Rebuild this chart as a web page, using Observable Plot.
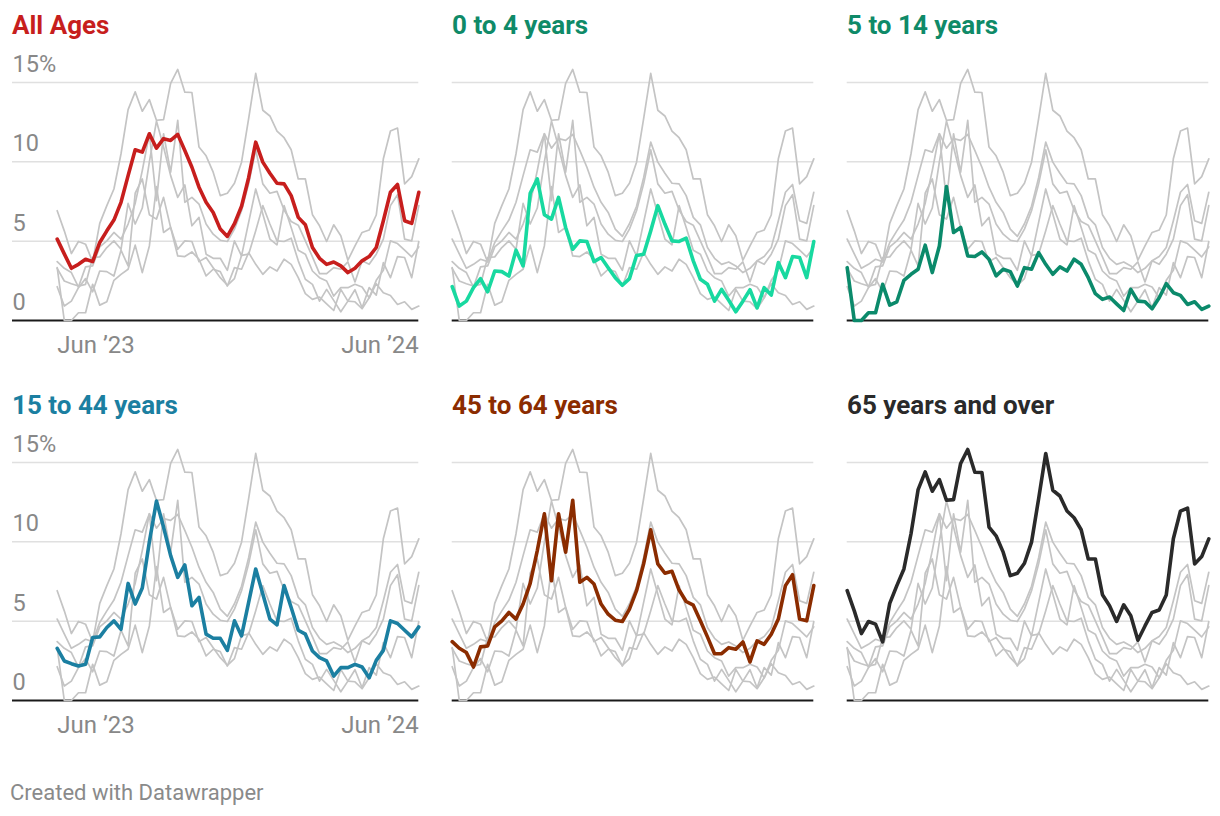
<!DOCTYPE html>
<html><head><meta charset="utf-8">
<script src="https://cdn.jsdelivr.net/npm/d3@7"></script>
<script src="https://cdn.jsdelivr.net/npm/@observablehq/plot@0.6"></script>
<style>
body{margin:0;background:#fff;font-family:Roboto,"Noto Sans",sans-serif;}
#root{position:relative;width:1220px;height:816px;overflow:hidden;}
.title{position:absolute;font-weight:700;font-size:26px;line-height:30px;white-space:nowrap;}
.panel{position:absolute;}
.footer{position:absolute;left:10px;top:781px;font-size:22px;line-height:24px;color:#8a8a8a;}
</style></head><body><div id="root"></div>
<script>
// ---- data (weekly share, %) ----
const seriesNames = ["All Ages", "0 to 4 years", "5 to 14 years", "15 to 44 years", "45 to 64 years", "65 years and over"];
const allAges = [5.13,4.2,3.29,3.54,3.86,3.71,4.92,5.65,6.33,7.45,9.13,10.76,10.61,11.77,10.86,11.46,11.35,11.73,10.72,9.66,8.4,7.45,6.81,5.76,5.3,6.1,7.2,9.0,11.24,9.98,9.28,8.65,8.61,7.87,6.5,6.03,4.6,3.92,3.54,3.69,3.44,3.02,3.29,3.76,4.03,4.6,6.29,8.08,8.57,6.29,6.12,8.08];
const age0to4 = [2.13,0.91,1.22,2.07,2.64,1.81,3.12,3.08,2.8,4.43,3.44,8.02,8.92,6.67,6.39,7.76,5.86,4.49,5.02,4.98,3.71,3.97,3.33,2.7,2.22,2.64,4.1,4.18,5.65,7.24,6.08,5.02,4.98,5.19,3.76,2.6,2.28,1.22,1.96,1.27,0.55,1.22,1.94,0.8,2.07,1.6,3.65,2.7,4.03,3.97,2.7,4.98];
const age5to14 = [3.33,0,0,0.49,0.49,2.28,0.97,1.18,2.53,2.91,3.23,4.75,3.02,4.7,8.44,5.55,5.86,4.07,4.03,4.32,3.86,2.81,3.23,3.08,2.17,3.33,3.23,4.28,3.54,2.91,3.38,3.12,3.86,3.54,2.7,1.69,1.33,1.48,1.05,0.63,1.96,1.22,1.18,0.74,1.43,2.32,1.75,1.58,1.01,1.18,0.7,0.91];
const age15to44 = [3.29,2.49,2.32,2.17,2.28,3.97,4.01,4.6,5.02,4.49,7.38,6.08,7.09,10.0,12.57,10.93,9.13,7.76,8.54,5.97,6.5,4.18,3.92,3.92,3.16,5.02,4.07,6.18,8.29,6.71,5.13,4.77,7.24,5.86,4.43,4.18,3.12,2.7,2.49,1.54,2.07,2.07,2.28,2.11,1.43,2.53,3.16,5.02,4.85,4.43,4.01,4.64];
const age45to64 = [3.71,3.29,3.02,2.11,3.38,3.44,4.64,5.02,5.55,5.13,6.08,7.38,9.45,11.77,7.55,11.77,9.35,12.62,7.45,7.76,7.34,6.08,5.44,5.06,4.98,5.76,6.92,8.61,10.76,8.61,8.02,8.14,6.96,6.24,6.01,5.02,4.01,2.95,2.95,3.33,3.23,3.69,2.43,3.76,3.54,4.18,5.13,7.24,7.93,5.13,5.02,7.24];
const age65plus = [6.92,5.65,4.22,4.98,4.81,3.69,6.12,7.24,8.29,10.51,13.29,14.41,13.19,13.92,12.62,12.66,14.94,15.82,14.39,14.37,10.93,10.38,9.35,7.87,8.02,8.65,9.98,12.72,15.57,13.25,12.89,11.94,11.52,10.76,8.92,8.92,6.67,5.97,4.98,6.03,5.34,3.8,4.7,5.55,5.7,6.65,10.19,11.94,12.13,8.61,9.07,10.19];
const yTicks = [0, 5, 10, 15];
const yTickLabels = ["0", "5", "10", "15%"];
const xTickLabels = ["Jun ’23", "Jun ’24"];

// ---- styles ----
const lineColors = ["#c71e1d", "#18d9a0", "#0b8a6b", "#1b7fa1", "#8b2c00", "#2a2a2a"];
const titleColors = ["#c71e1d", "#0f8a68", "#0f8a68", "#1b7fa1", "#8b2c00", "#2a2a2a"];

const allSeries = [allAges, age0to4, age5to14, age15to44, age45to64, age65plus];
const rows = [];
allSeries.forEach((vals, s) => vals.forEach((v, i) => rows.push({key: seriesNames[s], i, v})));
const nPts = allAges.length;

const root = document.getElementById("root");
seriesNames.forEach((name, k) => {
  const col = k % 3, row = Math.floor(k / 3);
  const showAxes = col === 0;
  const others = rows.filter(d => d.key !== name);
  const hi = rows.filter(d => d.key === name);
  const marks = [
    Plot.ruleY(yTicks.filter(t => t > 0), {stroke: "#e0e0e0", strokeWidth: 1.5}),
    Plot.ruleY([0], {stroke: "#1a1a1a", strokeWidth: 2}),
    Plot.line(others, {x: "i", y: "v", z: "key", stroke: "#c4c4c4", strokeWidth: 1.7, strokeLinejoin: "round"}),
    Plot.line(hi, {x: "i", y: "v", stroke: lineColors[k], strokeWidth: 3.6, strokeLinejoin: "round", strokeLinecap: "round"})
  ];
  if (showAxes) {
    marks.push(Plot.text(yTicks, {y: d => d, text: (d, i) => yTickLabels[i], frameAnchor: "left", textAnchor: "start", dy: -18, fill: "#888", fontSize: 23.5}));
    marks.push(Plot.text([0], {x: d => d, text: () => xTickLabels[0], frameAnchor: "bottom", textAnchor: "start", dy: 32, fill: "#888", fontSize: 24}));
    marks.push(Plot.text([nPts - 1], {x: d => d, text: () => xTickLabels[1], frameAnchor: "bottom", textAnchor: "end", dy: 32, fill: "#888", fontSize: 24}));
  }
  const svg = Plot.plot({
    width: 420, height: 330,
    marginLeft: showAxes ? 12 : 56.7, marginRight: 1.7, marginTop: 42, marginBottom: 50,
    x: {domain: [0, nPts - 1], range: [56.7, 418.3], axis: null},
    y: {domain: [0, 15], range: [280, 42], axis: null},
    style: {background: "transparent", overflow: "visible", fontFamily: "Roboto, sans-serif"},
    marks
  });
  const wrap = document.createElement("div");
  wrap.className = "panel";
  wrap.style.left = (col * 395) + "px";
  wrap.style.top = (row * 380 + 40) + "px";
  wrap.appendChild(svg);
  root.appendChild(wrap);
  const t = document.createElement("div");
  t.className = "title";
  t.textContent = name;
  t.style.color = titleColors[k];
  t.style.left = [12, 452, 847][col] + "px";
  t.style.top = (row * 380 + 10) + "px";
  root.appendChild(t);
});
const f = document.createElement("div");
f.className = "footer";
f.textContent = "Created with Datawrapper";
root.appendChild(f);
</script></body></html>
